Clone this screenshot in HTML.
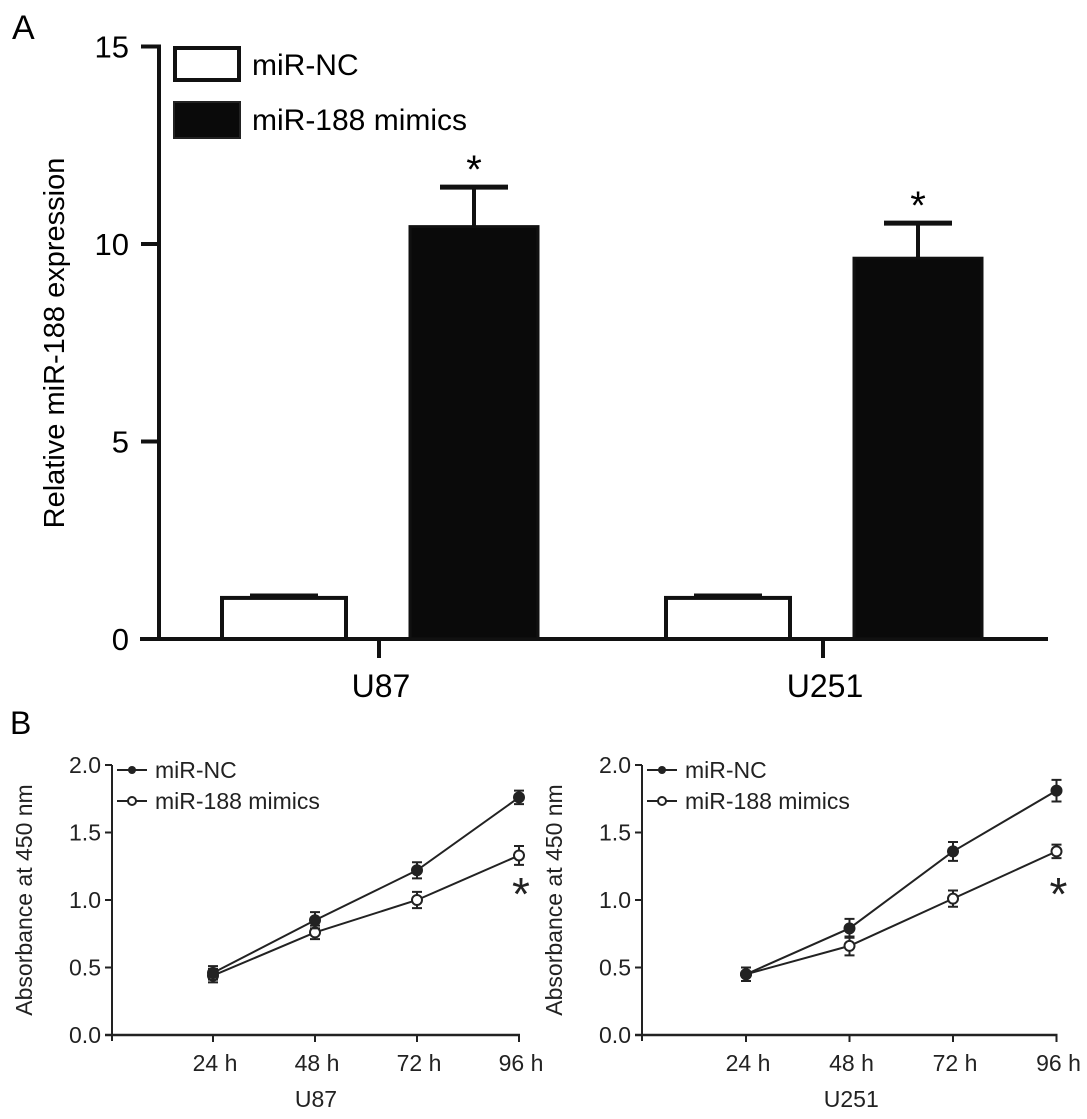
<!DOCTYPE html>
<html><head><meta charset="utf-8"><style>
html,body{margin:0;padding:0;background:#fff;}
svg{display:block;font-family:"Liberation Sans",Arial,sans-serif;}
</style></head><body>
<svg id="fig" width="1087" height="1119" viewBox="0 0 1087 1119">
<text x="12" y="39" font-size="34">A</text>
<text x="10" y="734" font-size="32">B</text>
<g id="pa"></g>
<g id="pb1"></g>
<g id="pb2"></g>
</svg>
<script>
const NS="http://www.w3.org/2000/svg";
// ---- Panel A data ----
const aCategories=["U87","U251"];
const aNC=[1.04,1.04];
const aNCerr=[0.06,0.06];
const aMim=[10.44,9.64];
const aMimErr=[1.0,0.89];
const aTicks=[0,5,10,15];
// ---- Panel B data ----
const bTimes=["24 h","48 h","72 h","96 h"];
const bTicks=["0.0","0.5","1.0","1.5","2.0"];
const u87NC=[0.46,0.85,1.22,1.76];
const u87NCerr=[0.05,0.06,0.06,0.05];
const u87Mim=[0.44,0.76,1.0,1.33];
const u87MimErr=[0.05,0.05,0.06,0.07];
const u251NC=[0.45,0.79,1.36,1.81];
const u251NCerr=[0.05,0.07,0.07,0.08];
const u251Mim=[0.45,0.66,1.01,1.36];
const u251MimErr=[0.05,0.07,0.06,0.05];

function mk(parent,tag,attrs,text){const e=document.createElementNS(NS,tag);for(const k in attrs)e.setAttribute(k,attrs[k]);if(text!==undefined)e.textContent=text;parent.appendChild(e);return e;}

// Panel A
(function(){
const g=document.getElementById('pa');
const y=v=>639-v*39.5;
const axX=159, groupX=[379,823], bw=128;
let e;
e=mk(g,'line',{x1:axX,y1:y(15)-2,x2:axX,y2:641,stroke:'#111','stroke-width':4});


e=mk(g,'line',{x1:140,y1:639,x2:1048,y2:639,stroke:'#111','stroke-width':4});


aTicks.forEach(t=>{
 e=mk(g,'line',{x1:axX-18,y1:y(t),x2:axX,y2:y(t),stroke:'#111','stroke-width':4});
 
 
 e=mk(g,'text',{x:129,y:y(t)+11,'font-size':31,'text-anchor':'end'},String(t));
 
 
});
e=mk(g,'text',{x:0,y:0,'font-size':29,'text-anchor':'middle',transform:'translate(64,343) rotate(-90)'},'Relative miR-188 expression');


aCategories.forEach((c,i)=>{
 const cx=groupX[i];
 e=mk(g,'line',{x1:cx,y1:639,x2:cx,y2:658,stroke:'#111','stroke-width':4});
 
 
 e=mk(g,'text',{x:cx+2,y:697,'font-size':32,'text-anchor':'middle'},c);
 
 
 const xw=cx-159, xb=cx+31;
 e=mk(g,'line',{x1:xw+bw/2,y1:y(aNC[i]+aNCerr[i]),x2:xw+bw/2,y2:y(aNC[i]),stroke:'#111','stroke-width':4});
 
 
 e=mk(g,'line',{x1:xw+bw/2-34,y1:y(aNC[i]+aNCerr[i]),x2:xw+bw/2+34,y2:y(aNC[i]+aNCerr[i]),stroke:'#111','stroke-width':4});
 
 
 e=mk(g,'rect',{x:xw+2,y:y(aNC[i]),width:bw-4,height:639-y(aNC[i]),fill:'#fff',stroke:'#111','stroke-width':4});
 
 
 const top=y(aMim[i]+aMimErr[i]);
 e=mk(g,'line',{x1:xb+bw/2,y1:top,x2:xb+bw/2,y2:y(aMim[i]),stroke:'#111','stroke-width':4});
 
 
 e=mk(g,'line',{x1:xb+bw/2-34,y1:top,x2:xb+bw/2+34,y2:top,stroke:'#111','stroke-width':5});
 
 
 e=mk(g,'rect',{x:xb,y:y(aMim[i]),width:bw,height:639-y(aMim[i]),fill:'#0a0a0a',stroke:'#111','stroke-width':3});
 
 
 e=mk(g,'text',{x:xb+bw/2,y:top-4,'font-size':40,'text-anchor':'middle'},'*');
 
 
});
e=mk(g,'rect',{x:175,y:48,width:64,height:32,fill:'#fff',stroke:'#111','stroke-width':4});


e=mk(g,'text',{x:252,y:75,'font-size':30},'miR-NC');


e=mk(g,'rect',{x:174,y:102,width:66,height:36,fill:'#0a0a0a',stroke:'#222','stroke-width':2});


e=mk(g,'text',{x:252,y:130,'font-size':30},'miR-188 mimics');


})();

function linePanel(id,axX,x0,dx,title,nc,ncErr,mim,mimErr){
 const g=document.getElementById(id);
 const y=v=>1035-v*135;
 const x=i=>x0+i*dx;
 let e;
 e=mk(g,'line',{x1:axX,y1:y(2),x2:axX,y2:1041,stroke:'#222','stroke-width':2});
 
 
 e=mk(g,'line',{x1:axX-7,y1:1035,x2:x(3)+1,y2:1035,stroke:'#222','stroke-width':2.5});
 
 
 bTicks.forEach(t=>{
  const v=parseFloat(t);
  e=mk(g,'line',{x1:axX-7,y1:y(v),x2:axX,y2:y(v),stroke:'#222','stroke-width':2});
  
  
  e=mk(g,'text',{x:axX-11,y:y(v)+8,'font-size':23,'text-anchor':'end',fill:'#222'},t);
  
  
 });
 e=mk(g,'text',{x:0,y:0,'font-size':23,'text-anchor':'middle',fill:'#222',transform:`translate(${axX-80},900) rotate(-90)`},'Absorbance at 450 nm');
 
 
 bTimes.forEach((t,i)=>{
  e=mk(g,'line',{x1:x(i),y1:1035,x2:x(i),y2:1042,stroke:'#222','stroke-width':2});
  
  
  e=mk(g,'text',{x:x(i)+2,y:1071,'font-size':23,'text-anchor':'middle',fill:'#222'},t);
  
  
 });
 e=mk(g,'text',{x:(x(1)+x(2))/2-50,y:1107,'font-size':23,'text-anchor':'middle',fill:'#222'},title);
 
 
 function series(vals,errs,open,name){
  e=mk(g,'polyline',{points:vals.map((v,i)=>x(i)+','+y(v)).join(' '),fill:'none',stroke:'#222','stroke-width':2});
  
  
  vals.forEach((v,i)=>{
   const p=mk(g,'path',{d:`M${x(i)-5},${y(v+errs[i])}H${x(i)+5}M${x(i)},${y(v+errs[i])}V${y(v-errs[i])}M${x(i)-5},${y(v-errs[i])}H${x(i)+5}`,stroke:'#222','stroke-width':2,fill:'none'});
   
   
   const c=mk(g,'circle',{cx:x(i),cy:y(v),r:5,fill:open?'#fff':'#222',stroke:'#222','stroke-width':2});
   
   
  });
 }
 series(mim,mimErr,true,'mir-188-mimics');
 series(nc,ncErr,false,'mir-nc');
 e=mk(g,'text',{x:x(3)+2,y:910,'font-size':46,'text-anchor':'middle',fill:'#222'},'*');
 
 
 const lx=axX+5;
 e=mk(g,'line',{x1:lx,y1:770,x2:lx+30,y2:770,stroke:'#222','stroke-width':2});
 
 
 e=mk(g,'circle',{cx:lx+15,cy:770,r:4,fill:'#222'});
 
 
 e=mk(g,'text',{x:lx+38,y:778,'font-size':23,fill:'#222'},'miR-NC');
 
 
 e=mk(g,'line',{x1:lx,y1:801,x2:lx+30,y2:801,stroke:'#222','stroke-width':2});
 
 
 e=mk(g,'circle',{cx:lx+15,cy:801,r:4,fill:'#fff',stroke:'#222','stroke-width':2});
 
 
 e=mk(g,'text',{x:lx+38,y:809,'font-size':23,fill:'#222'},'miR-188 mimics');
 
 
}
linePanel('pb1',112,213,102,'U87',u87NC,u87NCerr,u87Mim,u87MimErr);
linePanel('pb2',642,746,103.5,'U251',u251NC,u251NCerr,u251Mim,u251MimErr);
</script>
</body></html>
